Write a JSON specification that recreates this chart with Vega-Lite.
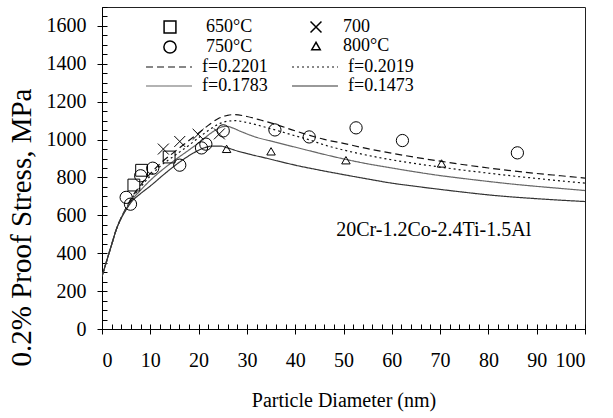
{
  "$schema": "https://vega.github.io/schema/vega-lite/v6.json",
  "width": 483,
  "height": 322,
  "autosize": "none",
  "padding": {"left": 102, "top": 7, "right": 28, "bottom": 89},
  "background": "white",
  "config": {
    "font": "Liberation Serif",
    "view": {"stroke": "#222", "strokeWidth": 1},
    "style": {
      "guide-label": {"font": "Liberation Serif", "fill": "black"},
      "guide-title": {"font": "Liberation Serif", "fill": "black", "fontWeight": "normal"}
    },
    "axis": {
      "grid": false,
      "labelFont": "Liberation Serif",
      "titleFont": "Liberation Serif",
      "labelFontSize": 20,
      "titleFontSize": 20,
      "titleFontWeight": "normal",
      "labelColor": "black",
      "titleColor": "black",
      "tickColor": "black",
      "domainColor": "black",
      "tickWidth": 1,
      "domainWidth": 1
    },
    "legend": {
      "labelFont": "Liberation Serif",
      "labelFontSize": 18,
      "labelColor": "black"
    }
  },
  "datasets": {
    "curves": [
      {"f": "f=0.2201", "d": 0, "s": 278}, {"f": "f=0.2201", "d": 1, "s": 362}, {"f": "f=0.2201", "d": 2, "s": 446}, {"f": "f=0.2201", "d": 3, "s": 528}, {"f": "f=0.2201", "d": 4, "s": 590}, {"f": "f=0.2201", "d": 5, "s": 640}, {"f": "f=0.2201", "d": 6, "s": 688}, {"f": "f=0.2201", "d": 8, "s": 760}, {"f": "f=0.2201", "d": 10, "s": 820}, {"f": "f=0.2201", "d": 12, "s": 872}, {"f": "f=0.2201", "d": 15, "s": 935}, {"f": "f=0.2201", "d": 18, "s": 995}, {"f": "f=0.2201", "d": 20, "s": 1035}, {"f": "f=0.2201", "d": 22, "s": 1075}, {"f": "f=0.2201", "d": 24, "s": 1110}, {"f": "f=0.2201", "d": 26, "s": 1128}, {"f": "f=0.2201", "d": 27.5, "s": 1132}, {"f": "f=0.2201", "d": 30, "s": 1122}, {"f": "f=0.2201", "d": 33, "s": 1102}, {"f": "f=0.2201", "d": 36, "s": 1080}, {"f": "f=0.2201", "d": 40, "s": 1046}, {"f": "f=0.2201", "d": 43, "s": 1022}, {"f": "f=0.2201", "d": 46, "s": 1001}, {"f": "f=0.2201", "d": 50, "s": 980}, {"f": "f=0.2201", "d": 55, "s": 952}, {"f": "f=0.2201", "d": 60, "s": 928}, {"f": "f=0.2201", "d": 65, "s": 906}, {"f": "f=0.2201", "d": 70, "s": 886}, {"f": "f=0.2201", "d": 75, "s": 867}, {"f": "f=0.2201", "d": 80, "s": 850}, {"f": "f=0.2201", "d": 85, "s": 835}, {"f": "f=0.2201", "d": 90, "s": 821}, {"f": "f=0.2201", "d": 95, "s": 809}, {"f": "f=0.2201", "d": 100, "s": 797},
      {"f": "f=0.2019", "d": 0, "s": 278}, {"f": "f=0.2019", "d": 1, "s": 362}, {"f": "f=0.2019", "d": 2, "s": 446}, {"f": "f=0.2019", "d": 3, "s": 528}, {"f": "f=0.2019", "d": 4, "s": 588}, {"f": "f=0.2019", "d": 5, "s": 637}, {"f": "f=0.2019", "d": 6, "s": 682}, {"f": "f=0.2019", "d": 8, "s": 750}, {"f": "f=0.2019", "d": 10, "s": 808}, {"f": "f=0.2019", "d": 12, "s": 858}, {"f": "f=0.2019", "d": 15, "s": 915}, {"f": "f=0.2019", "d": 18, "s": 970}, {"f": "f=0.2019", "d": 20, "s": 1010}, {"f": "f=0.2019", "d": 22, "s": 1048}, {"f": "f=0.2019", "d": 24, "s": 1080}, {"f": "f=0.2019", "d": 26, "s": 1097}, {"f": "f=0.2019", "d": 27.5, "s": 1100}, {"f": "f=0.2019", "d": 30, "s": 1090}, {"f": "f=0.2019", "d": 33, "s": 1071}, {"f": "f=0.2019", "d": 36, "s": 1050}, {"f": "f=0.2019", "d": 40, "s": 1020}, {"f": "f=0.2019", "d": 43, "s": 998}, {"f": "f=0.2019", "d": 46, "s": 972}, {"f": "f=0.2019", "d": 50, "s": 945}, {"f": "f=0.2019", "d": 55, "s": 917}, {"f": "f=0.2019", "d": 60, "s": 893}, {"f": "f=0.2019", "d": 65, "s": 873}, {"f": "f=0.2019", "d": 70, "s": 855}, {"f": "f=0.2019", "d": 75, "s": 838}, {"f": "f=0.2019", "d": 80, "s": 823}, {"f": "f=0.2019", "d": 85, "s": 808}, {"f": "f=0.2019", "d": 90, "s": 795}, {"f": "f=0.2019", "d": 95, "s": 782}, {"f": "f=0.2019", "d": 100, "s": 770},
      {"f": "f=0.1783", "d": 0, "s": 278}, {"f": "f=0.1783", "d": 1, "s": 362}, {"f": "f=0.1783", "d": 2, "s": 446}, {"f": "f=0.1783", "d": 3, "s": 528}, {"f": "f=0.1783", "d": 4, "s": 587}, {"f": "f=0.1783", "d": 5, "s": 634}, {"f": "f=0.1783", "d": 6, "s": 675}, {"f": "f=0.1783", "d": 8, "s": 733}, {"f": "f=0.1783", "d": 10, "s": 785}, {"f": "f=0.1783", "d": 12, "s": 830}, {"f": "f=0.1783", "d": 15, "s": 890}, {"f": "f=0.1783", "d": 18, "s": 945}, {"f": "f=0.1783", "d": 20, "s": 982}, {"f": "f=0.1783", "d": 23, "s": 1042}, {"f": "f=0.1783", "d": 25, "s": 1068}, {"f": "f=0.1783", "d": 26, "s": 1070}, {"f": "f=0.1783", "d": 27, "s": 1062}, {"f": "f=0.1783", "d": 29, "s": 1040}, {"f": "f=0.1783", "d": 32, "s": 1012}, {"f": "f=0.1783", "d": 35, "s": 992}, {"f": "f=0.1783", "d": 40, "s": 960}, {"f": "f=0.1783", "d": 45, "s": 928}, {"f": "f=0.1783", "d": 50, "s": 898}, {"f": "f=0.1783", "d": 55, "s": 872}, {"f": "f=0.1783", "d": 60, "s": 850}, {"f": "f=0.1783", "d": 65, "s": 829}, {"f": "f=0.1783", "d": 70, "s": 810}, {"f": "f=0.1783", "d": 75, "s": 794}, {"f": "f=0.1783", "d": 80, "s": 779}, {"f": "f=0.1783", "d": 85, "s": 765}, {"f": "f=0.1783", "d": 90, "s": 753}, {"f": "f=0.1783", "d": 95, "s": 742}, {"f": "f=0.1783", "d": 100, "s": 731},
      {"f": "f=0.1473", "d": 0, "s": 278}, {"f": "f=0.1473", "d": 1, "s": 362}, {"f": "f=0.1473", "d": 2, "s": 446}, {"f": "f=0.1473", "d": 3, "s": 528}, {"f": "f=0.1473", "d": 4, "s": 586}, {"f": "f=0.1473", "d": 5, "s": 630}, {"f": "f=0.1473", "d": 6, "s": 668}, {"f": "f=0.1473", "d": 8, "s": 715}, {"f": "f=0.1473", "d": 10, "s": 755}, {"f": "f=0.1473", "d": 13, "s": 820}, {"f": "f=0.1473", "d": 16, "s": 880}, {"f": "f=0.1473", "d": 19, "s": 930}, {"f": "f=0.1473", "d": 21, "s": 955}, {"f": "f=0.1473", "d": 23, "s": 966}, {"f": "f=0.1473", "d": 24.5, "s": 966}, {"f": "f=0.1473", "d": 26, "s": 956}, {"f": "f=0.1473", "d": 28, "s": 940}, {"f": "f=0.1473", "d": 31, "s": 920}, {"f": "f=0.1473", "d": 34, "s": 902}, {"f": "f=0.1473", "d": 37, "s": 883}, {"f": "f=0.1473", "d": 40, "s": 865}, {"f": "f=0.1473", "d": 45, "s": 839}, {"f": "f=0.1473", "d": 50, "s": 815}, {"f": "f=0.1473", "d": 55, "s": 792}, {"f": "f=0.1473", "d": 60, "s": 770}, {"f": "f=0.1473", "d": 65, "s": 753}, {"f": "f=0.1473", "d": 70, "s": 737}, {"f": "f=0.1473", "d": 75, "s": 722}, {"f": "f=0.1473", "d": 80, "s": 708}, {"f": "f=0.1473", "d": 85, "s": 697}, {"f": "f=0.1473", "d": 90, "s": 688}, {"f": "f=0.1473", "d": 95, "s": 680}, {"f": "f=0.1473", "d": 100, "s": 673}
    ],
    "pts": [
      {"T": "650°C", "d": 6.6, "s": 760}, {"T": "650°C", "d": 8.2, "s": 838}, {"T": "650°C", "d": 13.9, "s": 908},
      {"T": "700", "d": 12.7, "s": 950}, {"T": "700", "d": 16.1, "s": 990}, {"T": "700", "d": 19.9, "s": 1028}, {"T": "700", "d": 24.3, "s": 1030},
      {"T": "750°C", "d": 5.0, "s": 695}, {"T": "750°C", "d": 5.9, "s": 659}, {"T": "750°C", "d": 8.0, "s": 809}, {"T": "750°C", "d": 10.5, "s": 849}, {"T": "750°C", "d": 16.1, "s": 865}, {"T": "750°C", "d": 20.6, "s": 956}, {"T": "750°C", "d": 21.5, "s": 976}, {"T": "750°C", "d": 25.1, "s": 1046}, {"T": "750°C", "d": 35.8, "s": 1051}, {"T": "750°C", "d": 42.9, "s": 1014}, {"T": "750°C", "d": 52.6, "s": 1062}, {"T": "750°C", "d": 62.2, "s": 995}, {"T": "750°C", "d": 86.0, "s": 930},
      {"T": "800°C", "d": 25.8, "s": 951}, {"T": "800°C", "d": 35.0, "s": 938}, {"T": "800°C", "d": 50.5, "s": 891}, {"T": "800°C", "d": 70.3, "s": 874}
    ],
    "note": [{"d": 48.5, "s": 524, "label": "20Cr-1.2Co-2.4Ti-1.5Al"}]
  },
  "layer": [
    {
      "data": {"name": "curves"},
      "mark": {"type": "line", "interpolate": "monotone", "strokeWidth": 1.2, "clip": true},
      "encoding": {
        "x": {"field": "d", "type": "quantitative", "scale": {"domain": [0, 100], "nice": false},
          "axis": {"values": [0, 10, 20, 30, 40, 50, 60, 70, 80, 90, 100], "format": "d", "tickSize": 5, "labelPadding": 16, "labelFont": "Liberation Serif", "labelFontSize": 20, "title": "Particle Diameter (nm)", "titleFont": "Liberation Serif", "titleFontSize": 20, "titleFontWeight": "normal", "titlePadding": 20, "orient": "bottom"}},
        "y": {"field": "s", "type": "quantitative", "scale": {"domain": [0, 1700], "nice": false},
          "axis": {"values": [0, 200, 400, 600, 800, 1000, 1200, 1400, 1600], "format": "d", "tickSize": 5, "labelPadding": 11, "labelFont": "Liberation Serif", "labelFontSize": 20, "title": "0.2% Proof Stress, MPa", "titleFont": "Liberation Serif", "titleFontSize": 29, "titleFontWeight": "normal", "titlePadding": 10, "titleY": 220, "orient": "left"}},
        "strokeDash": {"field": "f", "type": "nominal",
          "scale": {"domain": ["f=0.2201", "f=0.2019", "f=0.1783", "f=0.1473"], "range": [[7, 4], [2, 3], [1, 0], [1, 0]]},
          "legend": {"title": null, "orient": "none", "direction": "horizontal", "legendX": 58, "legendY": 51, "columns": 2, "columnPadding": 21, "rowPadding": 1, "symbolType": "M-4,0L4,0", "symbolSize": 132, "symbolStrokeWidth": 1.2, "labelOffset": 24, "padding": 0, "labelFont": "Liberation Serif", "labelFontSize": 18}},
        "color": {"field": "f", "type": "nominal",
          "scale": {"domain": ["f=0.2201", "f=0.2019", "f=0.1783", "f=0.1473"], "range": ["#111", "#111", "#666", "#333"]},
          "legend": {"title": null, "orient": "none", "direction": "horizontal", "legendX": 58, "legendY": 51, "columns": 2, "columnPadding": 21, "rowPadding": 1, "symbolType": "M-4,0L4,0", "symbolSize": 132, "symbolStrokeWidth": 1.2, "labelOffset": 24, "padding": 0, "labelFont": "Liberation Serif", "labelFontSize": 18}}
      }
    },
    {
      "data": {"name": "pts"},
      "transform": [{"filter": {"field": "T", "oneOf": ["650°C", "750°C"]}}],
      "mark": {"type": "point", "filled": false, "color": "black", "strokeWidth": 1, "opacity": 1},
      "encoding": {
        "x": {"field": "d", "type": "quantitative",
          "axis": {"values": [0,2,4,6,8,10,12,14,16,18,20,22,24,26,28,30,32,34,36,38,40,42,44,46,48,50,52,54,56,58,60,62,64,66,68,70,72,74,76,78,80,82,84,86,88,90,92,94,96,98,100], "tickSize": -5, "labels": false, "domain": false, "title": null, "orient": "bottom"}},
        "y": {"field": "s", "type": "quantitative",
          "axis": {"values": [0,50,100,150,200,250,300,350,400,450,500,550,600,650,700,750,800,850,900,950,1000,1050,1100,1150,1200,1250,1300,1350,1400,1450,1500,1550,1600,1650,1700], "tickSize": -5, "labels": false, "domain": false, "title": null, "orient": "left"}},
        "shape": {"field": "T", "type": "nominal",
          "scale": {"domain": ["650°C", "750°C"], "range": ["square", "circle"]},
          "legend": {"title": null, "orient": "none", "legendX": 59, "legendY": 11, "rowPadding": 1, "labelOffset": 27, "padding": 0, "labelFont": "Liberation Serif", "labelFontSize": 18}},
        "size": {"field": "T", "type": "nominal",
          "scale": {"type": "ordinal", "domain": ["650°C", "750°C"], "range": [140, 150]},
          "legend": {"title": null, "orient": "none", "legendX": 59, "legendY": 11, "rowPadding": 1, "labelOffset": 27, "padding": 0, "labelFont": "Liberation Serif", "labelFontSize": 18}}
      }
    },
    {
      "data": {"name": "pts"},
      "transform": [{"filter": {"field": "T", "oneOf": ["700", "800°C"]}}],
      "mark": {"type": "point", "filled": false, "color": "black", "strokeWidth": 1, "opacity": 1},
      "encoding": {
        "x": {"field": "d", "type": "quantitative", "axis": null},
        "y": {"field": "s", "type": "quantitative", "axis": null},
        "shape": {"field": "T", "type": "nominal",
          "scale": {"domain": ["700", "800°C"], "range": ["M-1,-1L1,1M-1,1L1,-1", "triangle-up"]},
          "legend": {"title": null, "orient": "none", "legendX": 205, "legendY": 11, "rowPadding": 1, "labelOffset": 18, "padding": 0, "labelFont": "Liberation Serif", "labelFontSize": 18}},
        "size": {"field": "T", "type": "nominal",
          "scale": {"type": "ordinal", "domain": ["700", "800°C"], "range": [120, 72]},
          "legend": {"title": null, "orient": "none", "legendX": 205, "legendY": 11, "rowPadding": 1, "labelOffset": 18, "padding": 0, "labelFont": "Liberation Serif", "labelFontSize": 18}}
      }
    },
    {
      "data": {"name": "note"},
      "mark": {"type": "text", "align": "left", "baseline": "middle", "fontSize": 20, "font": "Liberation Serif", "color": "black"},
      "encoding": {
        "x": {"field": "d", "type": "quantitative", "axis": null},
        "y": {"field": "s", "type": "quantitative", "axis": null},
        "text": {"field": "label", "type": "nominal"}
      }
    }
  ],
  "resolve": {
    "axis": {"x": "independent", "y": "independent"},
    "scale": {"shape": "independent", "size": "independent"},
    "legend": {"shape": "independent", "size": "independent"}
  }
}
